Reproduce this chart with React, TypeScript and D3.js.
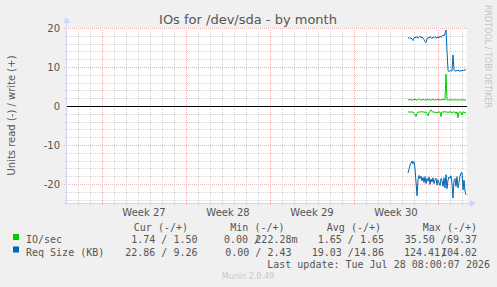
import React from "react";
import * as d3 from "d3";

// ---- data ----
const seriesNames = ["IO/sec", "Req Size (KB)"];
const seriesColors = ["#00cc00", "#0066b3"];
const dataStartHour = 682;
const stepHours = 2;
const writeIO = [
  1.5, 1.6, 1.7, 1.6, 1.5, 1.6, 1.6, 1.7, 1.6, 1.5, 1.6, 1.9, 1.6, 1.5, 1.6, 1.7, 1.6, 1.6, 1.5, 1.6,
  1.7, 1.6, 1.6, 1.5, 1.6, 1.8, 1.6, 1.5, 1.6, 1.6, 1.7, 1.6, 1.5, 1.6, 1.6, 1.7, 1.6, 1.6, 8.2, 1.6,
  1.5, 1.6, 1.6, 1.5, 1.6, 1.6, 1.5, 1.6, 1.6, 1.5, 1.6, 1.5, 1.6, 1.6, 1.5, 1.6, 1.5, 1.5, 1.5,
];
const readIO = [
  1.5, 1.5, 1.6, 1.5, 1.6, 1.5, 1.8, 2.2, 2.7, 1.8, 1.6, 1.5, 1.6, 1.5, 1.4, 1.6, 1.5, 1.7, 1.5, 2.0,
  2.5, 1.6, 1.5, 1.0, 1.4, 1.6, 1.5, 1.7, 1.5, 1.8, 1.5, 1.6, 1.5, 2.7, 1.5, 1.6, 1.5, 1.4, 1.6, 1.5,
  1.7, 1.5, 1.6, 1.4, 1.8, 1.5, 1.6, 1.5, 2.0, 1.5, 3.0, 1.6, 1.5, 1.6, 2.3, 1.5, 1.6, 1.7, 1.8,
];
const writeReq = [
  17.4, 17.6, 17.3, 17.5, 17.1, 16.8, 17.4, 17.7, 17.5, 17.8, 17.4, 17.6, 17.9, 17.5, 17.7, 17.4, 17.0, 16.5, 16.3, 17.2,
  17.6, 17.4, 17.8, 17.6, 17.3, 17.7, 17.5, 17.8, 17.6, 17.4, 17.7, 17.5, 17.9, 17.6, 17.8, 18.2, 18.0, 18.6, 19.5, 14.0,
  9.2, 8.8, 9.1, 9.0, 9.0, 13.1, 9.2, 8.9, 9.1, 9.0, 9.2, 9.0, 8.9, 9.1, 9.0, 9.2, 9.1, 9.3, 9.3,
];
const readReq = [
  17.2, 16.2, 15.2, 14.6, 14.1, 14.8, 14.3, 16.0, 19.5, 23.0, 19.0, 17.8, 18.6, 18.0, 19.2, 18.3, 19.6, 18.1, 19.9, 18.6,
  19.3, 18.2, 20.1, 18.7, 19.5, 18.4, 19.9, 19.0, 18.5, 20.3, 18.9, 19.6, 20.4, 18.6, 19.1, 20.6, 18.4, 21.0, 17.6, 21.2,
  19.0, 18.2, 18.5, 17.9, 20.0, 23.6, 19.0, 18.6, 20.6, 18.1, 21.0, 19.6, 18.0, 17.2, 17.0, 21.5, 19.0, 21.8, 22.8,
];
const weekLabels = ["Week 27", "Week 28", "Week 29", "Week 30"];
const weekStartHours = [70, 238, 406, 574, 742];
const yTicks = [20, 10, 0, -10, -20];
const legendHeaders = ["Cur (-/+)", "Min (-/+)", "Avg (-/+)", "Max (-/+)"];
const legendCur = ["1.74 / 1.50", "22.86 / 9.26"];
const legendAvg = ["1.65 / 1.65", "19.03 /14.86"];
const legendMax1 = ["35.50 /69.37"];

const W = 497;
const H = 287;
const X0 = 67, X1 = 467, Y0 = 28, Y1 = 203;

export default function App() {
  const x = d3.scaleLinear().domain([0, 800]).range([X0, X1]);
  const y = d3.scaleLinear().domain([-24.87, 20]).range([Y1, Y0]);
  const hours = writeIO.map((_, i) => dataStartHour + i * stepHours);
  const line = d3
    .line<number>()
    .x((_, i) => x(hours[i]))
    .y((v) => y(v));
  const minorDays = d3.range(22, 800, 24).filter((h) => !weekStartHours.includes(h));
  const minorY = d3.range(-24, 21, 2).filter((v) => v % 10 !== 0);
  const majorY = [-20, -10, 10, 20];
  const font = "DejaVu Sans, sans-serif";
  const mono = "DejaVu Sans Mono, monospace";
  const txt = "#555";
  const axisCol = "#cfd6f8";
  const minorCol = "#d6d6d6";
  const majorCol = "#eab4b4";

  return (
    <svg width={W} height={H} style={{ position: "absolute", left: 0, top: 0 }}>
      <rect x={0} y={0} width={W} height={H} fill="#f0f0f0" />
      <rect x={X0} y={Y0} width={X1 - X0} height={Y1 - Y0} fill="#ffffff" />
      {/* minor grid */}
      {minorY.map((v) => (
        <line key={"my" + v} x1={X0 - 2} x2={X1} y1={Math.round(y(v)) + 0.5} y2={Math.round(y(v)) + 0.5}
          stroke={minorCol} strokeDasharray="1,1" />
      ))}
      {minorDays.map((h) => (
        <line key={"mx" + h} y1={Y0} y2={Y1 + 2} x1={Math.round(x(h)) + 0.5} x2={Math.round(x(h)) + 0.5}
          stroke={minorCol} strokeDasharray="1,1" />
      ))}
      {/* major grid */}
      {majorY.map((v) => (
        <line key={"My" + v} x1={X0 - 3} x2={X1} y1={Math.round(y(v)) + 0.5} y2={Math.round(y(v)) + 0.5}
          stroke={majorCol} strokeDasharray="1,1" />
      ))}
      {weekStartHours.map((h) => (
        <line key={"Mx" + h} y1={Y0} y2={Y1 + 3} x1={Math.round(x(h)) + 0.5} x2={Math.round(x(h)) + 0.5}
          stroke={majorCol} strokeDasharray="1,1" />
      ))}
      {/* zero line */}
      <line x1={X0} x2={X1} y1={Math.round(y(0)) + 0.5} y2={Math.round(y(0)) + 0.5} stroke="#000" strokeWidth={1} />
      {/* series */}
      <path d={line(writeIO) || ""} fill="none" stroke={seriesColors[0]} strokeWidth={1} />
      <path d={line(readIO.map((v) => -v)) || ""} fill="none" stroke={seriesColors[0]} strokeWidth={1} />
      <path d={line(writeReq) || ""} fill="none" stroke={seriesColors[1]} strokeWidth={1} />
      <path d={line(readReq.map((v) => -v)) || ""} fill="none" stroke={seriesColors[1]} strokeWidth={1} />
      {/* axes */}
      <line x1={X0 - 0.5} x2={X0 - 0.5} y1={Y1 + 2} y2={Y0 - 6} stroke={axisCol} />
      <path d={`M${X0 - 4},${Y0 - 5} L${X0 - 0.5},${Y0 - 11} L${X0 + 3},${Y0 - 5} Z`} fill={axisCol} />
      <line x1={X0 - 3} x2={X1 + 4} y1={Y1 + 0.5} y2={Y1 + 0.5} stroke={axisCol} />
      <path d={`M${X1 + 3},${Y1 - 3} L${X1 + 9},${Y1 + 0.5} L${X1 + 3},${Y1 + 4} Z`} fill={axisCol} />
      {/* y tick labels */}
      {yTicks.map((v) => (
        <text key={"yt" + v} x={60} y={y(v) + 3.5} textAnchor="end" fontFamily={font} fontSize={10} fill={txt}>
          {v}
        </text>
      ))}
      {/* x labels */}
      {weekLabels.map((l, i) => (
        <text key={l} x={x((weekStartHours[i] + weekStartHours[i + 1]) / 2)} y={216} textAnchor="middle"
          fontFamily={font} fontSize={10} fill={txt}>
          {l}
        </text>
      ))}
      {/* title */}
      <text x={248} y={24} textAnchor="middle" fontFamily={font} fontSize={13} fill={txt}>
        IOs for /dev/sda - by month
      </text>
      {/* y axis title */}
      <text transform={`translate(15, ${(Y0 + Y1) / 2}) rotate(-90)`} textAnchor="middle" fontFamily={font}
        fontSize={10} fill={txt}>
        Units read (-) / write (+)
      </text>
      {/* rrdtool credit */}
      <text transform="translate(485, 5) rotate(90)" fontFamily={font} fontSize={8} fill="#c4c4c4">
        RRDTOOL / TOBI OETIKER
      </text>
      {/* legend */}
      <g fontFamily={mono} fontSize={10} fill={txt}>
        <text x={188} y={231} textAnchor="end">{legendHeaders[0]}</text>
        <text x={284.5} y={231} textAnchor="end">{legendHeaders[1]}</text>
        <text x={381} y={231} textAnchor="end">{legendHeaders[2]}</text>
        <text x={477} y={231} textAnchor="end">{legendHeaders[3]}</text>
        {seriesNames.map((n, i) => (
          <g key={n}>
            <rect x={13} y={234 + i * 12.5} width={6} height={6} fill={seriesColors[i]} />
            <text x={26} y={243 + i * 12.5}>{n}</text>
            <text x={197.5} y={243 + i * 12.5} textAnchor="end">{legendCur[i]}</text>
            <text x={384} y={243 + i * 12.5} textAnchor="end">{legendAvg[i]}</text>
          </g>
        ))}
        <text x={224} y={243}>0.00 /</text>
        <text x={297.5} y={243} textAnchor="end">222.28m</text>
        <text x={291.5} y={255.5} textAnchor="end">0.00 / 2.43</text>
        <text x={477} y={243} textAnchor="end">{legendMax1[0]}</text>
        <text x={404} y={255.5}>124.41</text>
        <text x={441} y={255.5}>/</text>
        <text x={477} y={255.5} textAnchor="end">104.02</text>
        <text x={490} y={267.5} textAnchor="end">Last update: Tue Jul 28 08:00:07 2026</text>
      </g>
      <text x={248} y={279} textAnchor="middle" fontFamily={font} fontSize={8} fill="#c8c8c8">
        Munin 2.0.49
      </text>
    </svg>
  );
}
